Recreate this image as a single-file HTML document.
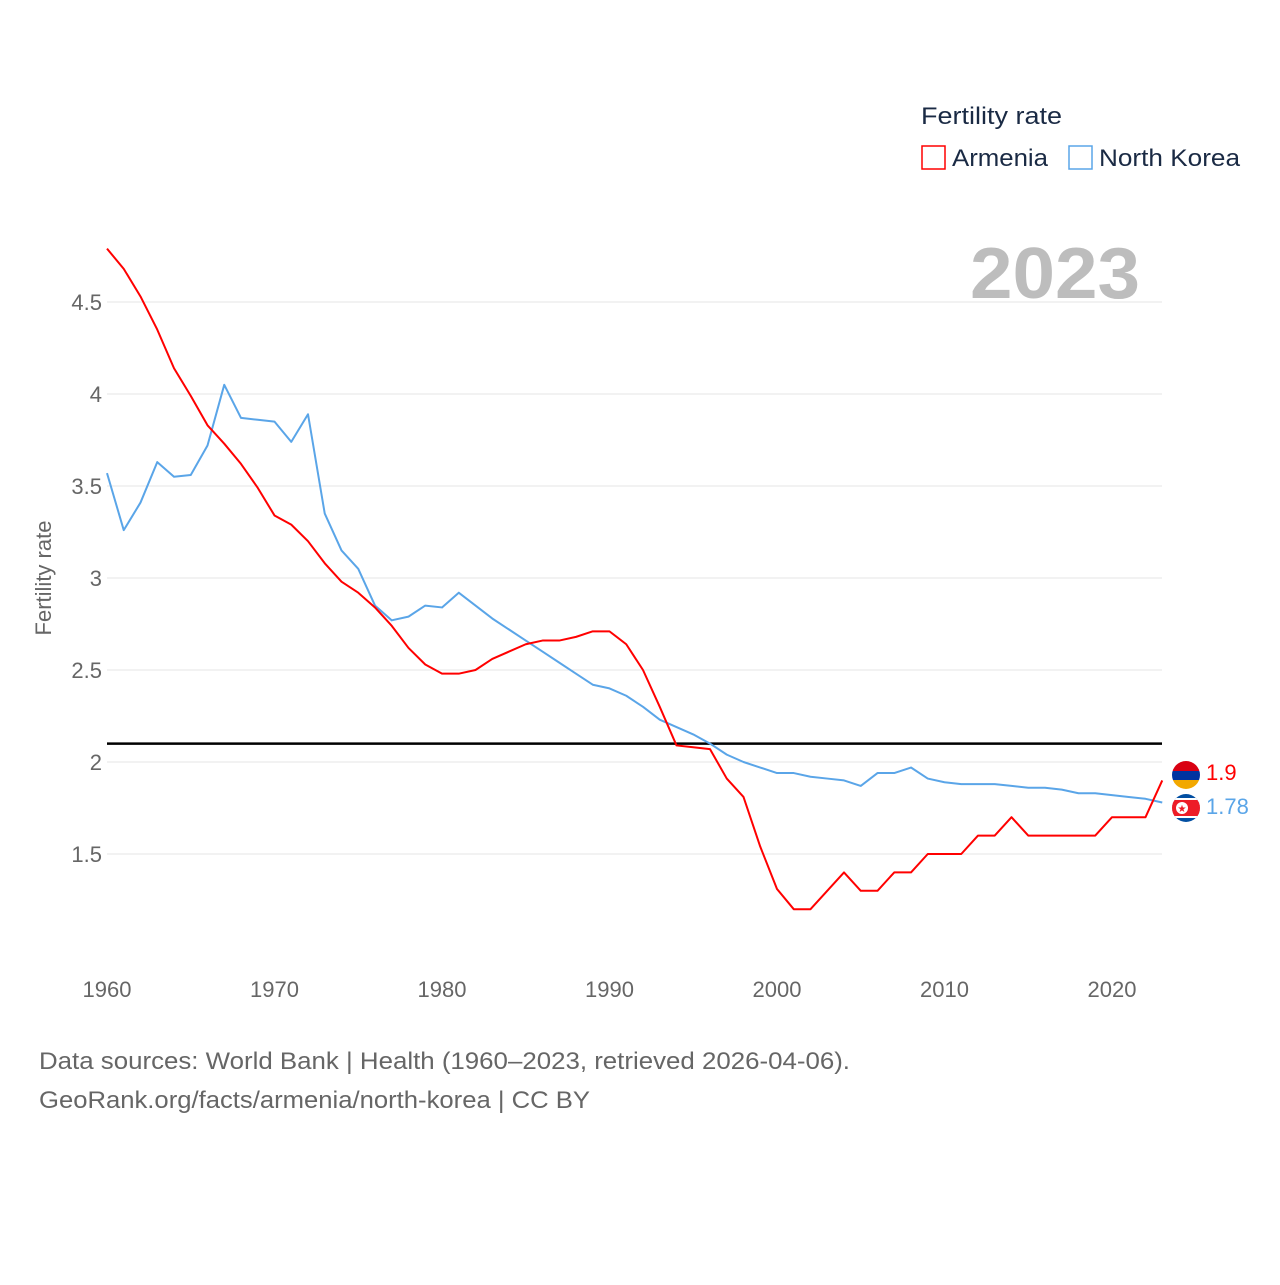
<!DOCTYPE html>
<html><head><meta charset="utf-8"><style>
body{margin:0;background:#fff;font-family:"Liberation Sans",sans-serif}
</style></head><body>
<svg width="1280" height="1280" viewBox="0 0 1280 1280" xmlns="http://www.w3.org/2000/svg">
<rect width="1280" height="1280" fill="#fff"/>
<g id="grid"></g>
<g id="yticks"></g>
<g id="xticks"></g>
<text x="1140" y="298" text-anchor="end" font-size="72" font-weight="bold" fill="#bdbdbd" textLength="170" lengthAdjust="spacingAndGlyphs">2023</text>
<text transform="translate(51,578) rotate(-90)" text-anchor="middle" font-size="22" fill="#666">Fertility rate</text>
<line id="repl" x1="107" x2="1162" stroke="#000" stroke-width="2.5"/>
<g id="series"></g>
<g>
<text x="921" y="124" font-size="24" fill="#1a2a44" textLength="141" lengthAdjust="spacingAndGlyphs">Fertility rate</text>
<g><rect x="922" y="146" width="23" height="23" fill="none" stroke="#ff0000" stroke-width="1.5"/><text x="952" y="166" font-size="24" fill="#1a2a44" textLength="96" lengthAdjust="spacingAndGlyphs">Armenia</text></g>
<g><rect x="1069" y="146" width="23" height="23" fill="none" stroke="#5aa5e8" stroke-width="1.5"/><text x="1099" y="166" font-size="24" fill="#1a2a44" textLength="141" lengthAdjust="spacingAndGlyphs">North Korea</text></g>
</g>
<g>
<clipPath id="c1"><circle cx="1186" cy="775" r="14"/></clipPath>
<g clip-path="url(#c1)"><rect x="1172" y="761" width="28" height="10" fill="#d90012"/><rect x="1172" y="771" width="28" height="9" fill="#0033a0"/><rect x="1172" y="780" width="28" height="10" fill="#f2a800"/></g></g>
<g>
<clipPath id="c2"><circle cx="1186" cy="808" r="14"/></clipPath>
<g clip-path="url(#c2)"><rect x="1172" y="794" width="28" height="28" fill="#024fa2"/><rect x="1172" y="798" width="28" height="20" fill="#fff"/><rect x="1172" y="800" width="28" height="16" fill="#ed1c27"/><circle cx="1182" cy="808" r="6" fill="#fff"/><text x="1182" y="812" font-size="10" text-anchor="middle" fill="#ed1c27">★</text></g></g>
<text x="1206" y="780" font-size="22" fill="#ff0000">1.9</text>
<text x="1206" y="814" font-size="22" fill="#5aa5e8">1.78</text>
<text x="39" y="1069" font-size="24" fill="#666" textLength="811" lengthAdjust="spacingAndGlyphs">Data sources: World Bank | Health (1960–2023, retrieved 2026-04-06).</text>
<text x="39" y="1108" font-size="24" fill="#666" textLength="551" lengthAdjust="spacingAndGlyphs">GeoRank.org/facts/armenia/north-korea | CC BY</text>
</svg>
<script>
const years=[];for(let y=1960;y<=2023;y++)years.push(y);
const armenia=[4.79,4.68,4.53,4.35,4.14,3.99,3.83,3.73,3.62,3.49,3.34,3.29,3.20,3.08,2.98,2.92,2.84,2.74,2.62,2.53,2.48,2.48,2.50,2.56,2.60,2.64,2.66,2.66,2.68,2.71,2.71,2.64,2.50,2.30,2.09,2.08,2.07,1.91,1.81,1.54,1.31,1.20,1.20,1.30,1.40,1.30,1.30,1.40,1.40,1.5,1.5,1.5,1.6,1.6,1.7,1.6,1.6,1.6,1.6,1.6,1.7,1.7,1.7,1.9];
const northKorea=[3.57,3.26,3.41,3.63,3.55,3.56,3.72,4.05,3.87,3.86,3.85,3.74,3.89,3.35,3.15,3.05,2.85,2.77,2.79,2.85,2.84,2.92,2.85,2.78,2.72,2.66,2.60,2.54,2.48,2.42,2.40,2.36,2.30,2.23,2.19,2.15,2.10,2.04,2.00,1.97,1.94,1.94,1.92,1.91,1.90,1.87,1.94,1.94,1.97,1.91,1.89,1.88,1.88,1.88,1.87,1.86,1.86,1.85,1.83,1.83,1.82,1.81,1.80,1.78];
const yTicks=[1.5,2,2.5,3,3.5,4,4.5];
const xTicks=[1960,1970,1980,1990,2000,2010,2020];
const replacement=2.1;
const X=y=>107+(y-1960)*16.75;
const Y=v=>762-(v-2)*184;
const NS="http://www.w3.org/2000/svg";
function mk(t,a,p){const e=document.createElementNS(NS,t);for(const k in a)e.setAttribute(k,a[k]);p.appendChild(e);return e;}
const grid=document.getElementById('grid'),yt=document.getElementById('yticks'),xt=document.getElementById('xticks');
yTicks.forEach(v=>{
 const l=mk('line',{x1:107,x2:1162,y1:Y(v),y2:Y(v),stroke:'#e6e6e6','stroke-width':1},grid);
 
 
 const t=mk('text',{x:102,y:Y(v)+8,'text-anchor':'end','font-size':22,fill:'#666'},yt);
 t.textContent=String(v);
 
 
});
xTicks.forEach(v=>{
 const t=mk('text',{x:X(v),y:997,'text-anchor':'middle','font-size':22,fill:'#666'},xt);
 t.textContent=String(v);
 
 
});
const r=document.getElementById('repl');r.setAttribute('y1',Y(replacement));r.setAttribute('y2',Y(replacement));
const s=document.getElementById('series');
[[northKorea,'#5aa5e8','north-korea-line'],[armenia,'#ff0000','armenia-line']].forEach(([d,c,n])=>{
 const p=mk('path',{d:d.map((v,i)=>(i?'L':'M')+X(years[i])+','+Y(v)).join(''),fill:'none',stroke:c,'stroke-width':2,'stroke-linejoin':'round'},s);
 
 
});
</script>
</body></html>
